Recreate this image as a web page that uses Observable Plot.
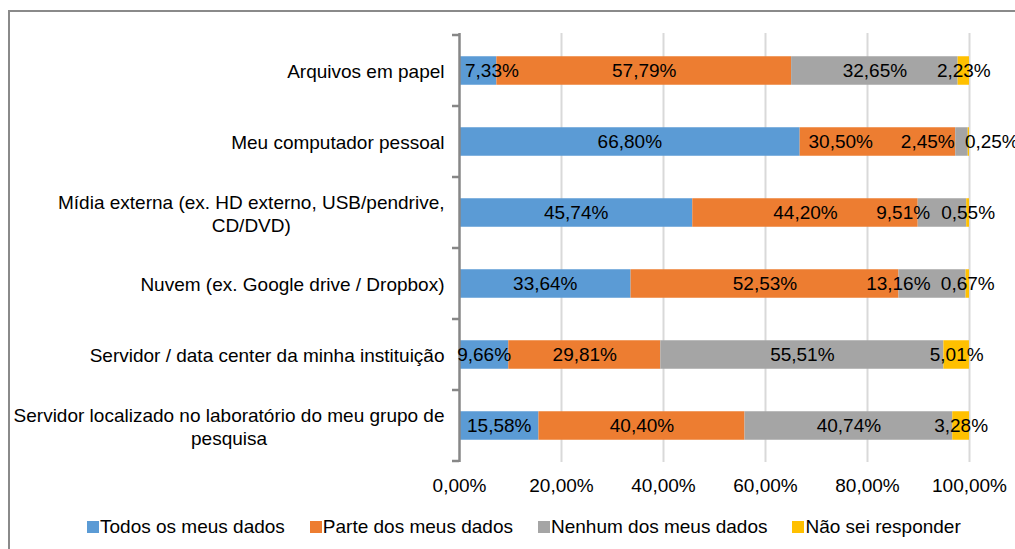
<!DOCTYPE html>
<html>
<head>
<meta charset="utf-8">
<script src="https://cdn.jsdelivr.net/npm/d3@7"></script>
<script src="https://cdn.jsdelivr.net/npm/@observablehq/plot@0.6"></script>
<style>
body { margin: 0; background: #fff; }
#wrap { position: relative; width: 1015px; height: 549px; overflow: hidden; font-family: "Liberation Sans", Arial, sans-serif; background: #fff; }
#chart { position: absolute; left: 0; top: 0; }
#legend { position: absolute; left: 87px; top: 510px; width: 960px; }
#frame { position: absolute; left: 8px; top: 10px; width: 1100px; height: 700px; border: 2px solid #8a8a8a; pointer-events: none; }
#legend .lg-swatch { margin-right: 25px !important; }
#legend .lg-swatch svg { margin-right: 1px !important; }
</style>
</head>
<body>
<div id="wrap"><div id="chart"></div><div id="legend"></div><div id="frame"></div></div>
<script>
// ---- data ----
const categories = [
  "Arquivos em papel",
  "Meu computador pessoal",
  "Mídia externa (ex. HD externo, USB/pendrive,\nCD/DVD)",
  "Nuvem (ex. Google drive / Dropbox)",
  "Servidor / data center da minha instituição",
  "Servidor localizado no laboratório do meu grupo de\npesquisa"
];
const series = ["Todos os meus dados", "Parte dos meus dados", "Nenhum dos meus dados", "Não sei responder"];
const todos  = [7.33, 66.80, 45.74, 33.64, 9.66, 15.58];
const parte  = [57.79, 30.50, 44.20, 52.53, 29.81, 40.40];
const nenhum = [32.65, 2.45, 9.51, 13.16, 55.51, 40.74];
const naoSei = [2.23, 0.25, 0.55, 0.67, 5.01, 3.28];
const xTicks = [0, 20, 40, 60, 80, 100];
const colors = ["#5B9BD5", "#ED7D31", "#A5A5A5", "#FFC000"];
// some data labels in the original were moved off-centre (in percentage points)
const labelNudge = [
  [2.7, 0, 0, 0],
  [0, -7.3, -6.7, 4.5],
  [0, 0, -7.7, 0],
  [0, 0, -6.7, 0],
  [0, 0, 0, 0],
  [0, 0, 0, 0]
];

const fmt = v => v.toFixed(2).replace(".", ",") + "%";
const seriesValues = [todos, parte, nenhum, naoSei];
const rows = [];
categories.forEach((c, i) => {
  let start = 0;
  seriesValues.forEach((vals, j) => {
    const v = vals[i];
    rows.push({category: c, series: series[j], value: v, labelX: start + v / 2 + labelNudge[i][j]});
    start += v;
  });
});

const font = "'Liberation Sans', Arial, sans-serif";
const plot = Plot.plot({
  width: 1015,
  height: 505,
  marginLeft: 459,
  marginRight: 46,
  marginTop: 33,
  marginBottom: 43,
  style: {fontFamily: font, fontSize: "19px", background: "transparent", overflow: "visible", color: "#000"},
  x: {domain: [0, 100], label: null},
  y: {domain: categories, padding: 0, label: null},
  color: {domain: series, range: colors},
  marks: [
    Plot.ruleX(xTicks.slice(1), {stroke: "#d9d9d9", strokeWidth: 2}),
    Plot.barX(rows, Plot.stackX({x: "value", y: "category", fill: "series", insetTop: 21.25, insetBottom: 21.25})),
    Plot.ruleX([0], {stroke: "#878787", strokeWidth: 2.5}),
    Plot.text(rows, {x: "labelX", y: "category", text: d => fmt(d.value), fill: "#000", fontSize: 19}),
    Plot.axisX({ticks: xTicks, tickFormat: fmt, tickSize: 0, tickPadding: 16, fontSize: 19, label: null}),
    Plot.axisY({tickSize: 0, tickPadding: 15, lineHeight: 1.2, fontSize: 19, label: null})
  ]
});
document.getElementById("chart").append(plot);

// centre multi-line category labels relative to each other (as in the original)
plot.querySelectorAll('g[aria-label="y-axis tick label"] text').forEach(t => {
  const spans = t.querySelectorAll("tspan");
  if (spans.length > 1) {
    const m = Math.max(...Array.from(spans, s => s.getComputedTextLength()));
    t.setAttribute("text-anchor", "middle");
    spans.forEach(s => s.setAttribute("x", -m / 2));
  }
});

// tick marks at category boundaries on the y axis
const ys = plot.scale("y"), xs = plot.scale("x");
const x0 = xs.apply(0);
const bounds = categories.map(c => ys.apply(c)).concat([ys.apply(categories[categories.length - 1]) + ys.bandwidth]);
d3.select(plot).append("g")
  .selectAll("line").data(bounds).join("line")
  .attr("x1", x0 - 7).attr("x2", x0)
  .attr("y1", d => d).attr("y2", d => d)
  .attr("stroke", "#878787").attr("stroke-width", 2.5);

const legend = Plot.legend({
  color: {domain: series, range: colors},
  legend: "swatches",
  swatchSize: 12,
  className: "lg",
  style: {fontFamily: font, fontSize: "19px", color: "#000"}
});
document.getElementById("legend").append(legend);
</script>
</body>
</html>
